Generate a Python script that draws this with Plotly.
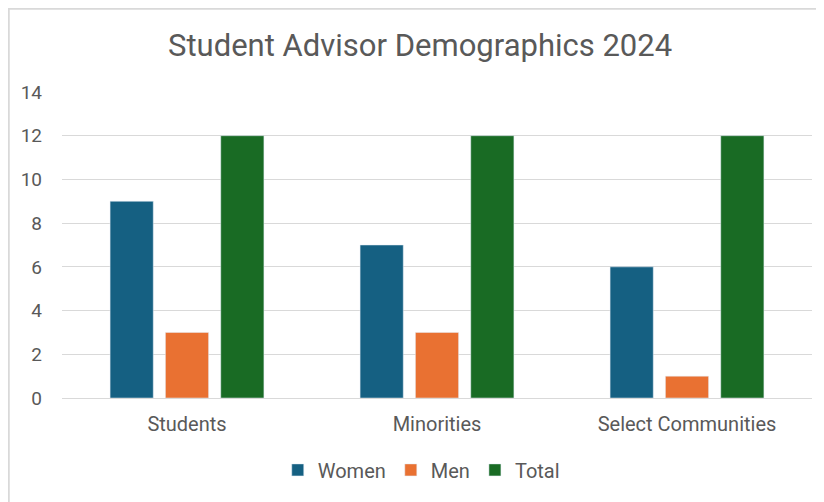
import plotly.graph_objects as go

categories = ["Students", "Minorities", "Select Communities"]
women = [9, 7, 6]
men = [3, 3, 1]
total = [12, 12, 12]

fig = go.Figure()

fig.add_trace(go.Bar(x=categories, y=women, name="Women", marker_color="#156082"))
fig.add_trace(go.Bar(x=categories, y=men, name="Men", marker_color="#E97132"))
fig.add_trace(go.Bar(x=categories, y=total, name="Total", marker_color="#196B24"))

# page body has an 8px offset, so the figure is sized/margined to compensate
fig.update_layout(
    width=816,
    height=494,
    margin=dict(l=54, r=12, t=84, b=96),
    paper_bgcolor="white",
    plot_bgcolor="white",
    font=dict(family="Roboto, Arial, sans-serif", color="#595959", size=20),
    title=dict(
        text="Student Advisor Demographics 2024",
        x=0.505,
        xanchor="center",
        y=0.925,
        yanchor="middle",
        font=dict(size=31, color="#595959"),
    ),
    barmode="group",
    bargap=0.336,
    bargroupgap=0.22,
    legend=dict(
        orientation="h",
        x=0.479,
        xanchor="center",
        y=-0.235,
        yanchor="middle",
        font=dict(size=20),
        itemwidth=30,
    ),
    showlegend=True,
)

fig.update_yaxes(
    range=[0, 14],
    dtick=2,
    showgrid=True,
    gridcolor="#D9D9D9",
    gridwidth=1,
    zeroline=False,
    showline=False,
    ticks="",
    ticklabelstandoff=19,
    tickfont=dict(size=19),
)
fig.update_xaxes(
    showline=True,
    linecolor="#D9D9D9",
    linewidth=1,
    ticks="",
    tickfont=dict(size=20),
    ticklabelstandoff=8,
)

# outer chart frame (left and top edges visible)
fig.add_shape(
    type="rect",
    xref="paper",
    yref="paper",
    x0=-0.071,
    x1=1.2,
    y0=-0.5,
    y1=1.272,
    line=dict(color="#D9D9D9", width=2),
    fillcolor="rgba(0,0,0,0)",
    layer="below",
)

fig.write_html("out.html")
